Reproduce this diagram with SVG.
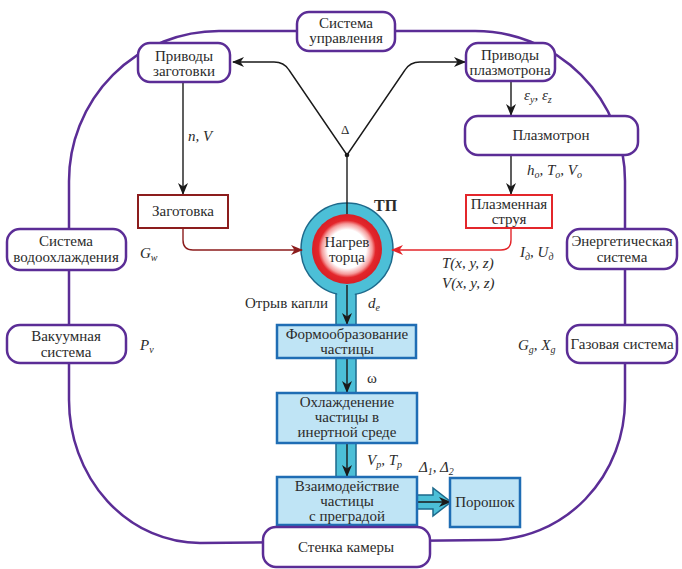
<svg xmlns="http://www.w3.org/2000/svg" width="682" height="569" viewBox="0 0 682 569" font-family="Liberation Serif, Tinos, DejaVu Serif, serif">
  <style>
    text { font-size: 15px; fill: #2b2b2b; }
    .c { text-anchor: middle; }
    .it { font-style: italic; }
    .sub { font-size: 10px; }
    .sys { fill: #ffffff; stroke: #5b2d96; stroke-width: 2.5; }
    .loop { fill: none; stroke: #5b2d96; stroke-width: 2.5; }
    .proc { fill: #bfe4f5; stroke: #1f6db4; stroke-width: 2.5; }
    .blk { fill: none; stroke: #1a1a1a; stroke-width: 1.4; }
    .chan { fill: #4cbfd7; stroke: #1d6a8c; stroke-width: 1.5; }
  </style>
  <defs>
    <marker id="ah" viewBox="0 0 12 10" refX="11" refY="5" markerWidth="12" markerHeight="10" orient="auto" markerUnits="userSpaceOnUse">
      <path d="M0,0 L12,5 L0,10 L3.5,5 z" fill="#1a1a1a"/>
    </marker>
    <marker id="ahDark" viewBox="0 0 12 10" refX="11" refY="5" markerWidth="12" markerHeight="10" orient="auto" markerUnits="userSpaceOnUse">
      <path d="M0,0 L12,5 L0,10 L3.5,5 z" fill="#8c1d1d"/>
    </marker>
    <marker id="ahRed" viewBox="0 0 12 10" refX="11" refY="5" markerWidth="12" markerHeight="10" orient="auto" markerUnits="userSpaceOnUse">
      <path d="M0,0 L12,5 L0,10 L3.5,5 z" fill="#e3262b"/>
    </marker>
    <radialGradient id="heat" cx="0.5" cy="0.5" r="0.5">
      <stop offset="0" stop-color="#ffffff"/>
      <stop offset="0.55" stop-color="#ffffff"/>
      <stop offset="0.72" stop-color="#f59a9a"/>
      <stop offset="0.82" stop-color="#e3262b"/>
      <stop offset="1" stop-color="#d81f26"/>
    </radialGradient>
  </defs>

  <!-- closed loop linking the peripheral systems -->
  <path class="loop" d="M219,31 L475,31 A150 150 0 0 1 625,181 L625,400 A135 140 0 0 1 490,540 L200,543 A131 143 0 0 1 69,400 L69,181 A150 150 0 0 1 219,31 Z"/>

  <!-- heated end and particle channel -->
  <g id="heated-end">
    <rect class="chan" x="336" y="280" width="20" height="200"/>
    <circle class="chan" cx="347" cy="249" r="46"/>
    <rect x="337.2" y="270" width="17.6" height="30" fill="#4cbfd7"/>
    <circle cx="347" cy="249" r="35" fill="url(#heat)"/>
    <text class="c" x="347" y="247">Нагрев</text>
    <text class="c" x="347" y="262">торца</text>
    <text x="374" y="211" style="font-weight:bold;font-size:16px">ТП</text>
  </g>

  <g id="connectors">
    <!-- control split -->
    <path class="blk" d="M347,214 L347,155"/>
    <path class="blk" d="M347,155 L289,70 Q284,62 274,62 L233,62" marker-end="url(#ah)"/>
    <path class="blk" d="M347,155 L405,70 Q410,62 420,62 L465,62" marker-end="url(#ah)"/>
    <circle cx="347" cy="155" r="2.3" fill="#1a1a1a"/>
    <text x="341" y="134" style="font-size:13px">Δ</text>

    <path class="blk" d="M183,82 L183,194" marker-end="url(#ah)"/>
    <path class="blk" d="M511,81 L511,115" marker-end="url(#ah)"/>
    <path class="blk" d="M511,155 L511,194" marker-end="url(#ah)"/>

    <path d="M183,228 L183,240 Q183,250 193,250 L302,250" fill="none" stroke="#8c1d1d" stroke-width="1.4" marker-end="url(#ahDark)"/>
    <path d="M511,228 L511,240 Q511,250 501,250 L392,250" fill="none" stroke="#e3262b" stroke-width="1.4" marker-end="url(#ahRed)"/>

    <path class="blk" d="M347,285 L347,324" marker-end="url(#ah)"/>
    <path class="blk" d="M347,358 L347,392" marker-end="url(#ah)"/>
    <path class="blk" d="M347,443 L347,476" marker-end="url(#ah)"/>

    <path d="M417,495 L433,495 L433,488 L451,502 L433,516 L433,509 L417,509 Z" fill="#4cbfd7" stroke="#1d6a8c" stroke-width="1.5"/>
    <path class="blk" d="M417,502 L450,502" marker-end="url(#ah)"/>

    <text class="it" x="188" y="141">n, V</text>
    <text class="it" x="524" y="100">ε<tspan class="sub" dy="3">y</tspan><tspan dy="-3">, ε</tspan><tspan class="sub" dy="3">z</tspan></text>
    <text class="it" x="527" y="175">h<tspan class="sub" dy="3">o</tspan><tspan dy="-3">, T</tspan><tspan class="sub" dy="3">o</tspan><tspan dy="-3">, V</tspan><tspan class="sub" dy="3">o</tspan></text>
    <text class="it" x="140" y="258">G<tspan class="sub" dy="3">w</tspan></text>
    <text class="it" x="140" y="350">P<tspan class="sub" dy="3">v</tspan></text>
    <text class="it" x="520" y="257">I<tspan class="sub" dy="3">д</tspan><tspan dy="-3">, U</tspan><tspan class="sub" dy="3">д</tspan></text>
    <text class="it" x="442" y="268">T(x, y, z)</text>
    <text class="it" x="442" y="288">V(x, y, z)</text>
    <text class="it" x="518" y="350">G<tspan class="sub" dy="3">g</tspan><tspan dy="-3">, X</tspan><tspan class="sub" dy="3">g</tspan></text>
    <text x="245" y="308">Отрыв капли</text>
    <text class="it" x="368" y="308">d<tspan class="sub" dy="3">e</tspan></text>
    <text x="367" y="383">ω</text>
    <text class="it" x="367" y="465">V<tspan class="sub" dy="3">p</tspan><tspan dy="-3">, T</tspan><tspan class="sub" dy="3">p</tspan></text>
    <text class="it" x="419" y="472">Δ<tspan class="sub" dy="3">1</tspan><tspan dy="-3">, Δ</tspan><tspan class="sub" dy="3">2</tspan></text>
  </g>

  <g id="control-system">
    <rect class="sys" x="297" y="12" width="98" height="39" rx="12"/>
    <text class="c" x="346" y="28">Система</text>
    <text class="c" x="346" y="43">управления</text>
  </g>
  <g id="billet-drives">
    <rect class="sys" x="138" y="43" width="92" height="39" rx="12"/>
    <text class="c" x="184" y="61">Приводы</text>
    <text class="c" x="184" y="76">заготовки</text>
  </g>
  <g id="plasmatron-drives">
    <rect class="sys" x="466" y="43" width="89" height="38" rx="12"/>
    <text class="c" x="510" y="60">Приводы</text>
    <text class="c" x="510" y="75">плазмотрона</text>
  </g>
  <g id="plasmatron">
    <rect class="sys" x="465" y="116" width="173" height="39" rx="13"/>
    <text class="c" x="551" y="140">Плазмотрон</text>
  </g>
  <g id="billet">
    <rect x="138" y="195" width="90" height="33" fill="#ffffff" stroke="#8c1d1d" stroke-width="2"/>
    <text class="c" x="183" y="216">Заготовка</text>
  </g>
  <g id="plasma-jet">
    <rect x="466" y="195" width="86" height="33" fill="#ffffff" stroke="#e3262b" stroke-width="2"/>
    <text class="c" x="509" y="209">Плазменная</text>
    <text class="c" x="509" y="224">струя</text>
  </g>
  <g id="water-cooling">
    <rect class="sys" x="7" y="229" width="119" height="41" rx="13"/>
    <text class="c" x="66" y="246">Система</text>
    <text class="c" x="66" y="262">водоохлаждения</text>
  </g>
  <g id="vacuum">
    <rect class="sys" x="7" y="325" width="119" height="38" rx="13"/>
    <text class="c" x="66" y="341">Вакуумная</text>
    <text class="c" x="66" y="357">система</text>
  </g>
  <g id="power">
    <rect class="sys" x="567" y="229" width="110" height="40" rx="13"/>
    <text class="c" x="622" y="246">Энергетическая</text>
    <text class="c" x="622" y="262">система</text>
  </g>
  <g id="gas">
    <rect class="sys" x="567" y="325" width="110" height="38" rx="13"/>
    <text class="c" x="622" y="349">Газовая система</text>
  </g>
  <g id="shaping">
    <rect class="proc" x="277" y="325" width="139" height="33"/>
    <text class="c" x="347" y="339">Формообразование</text>
    <text class="c" x="347" y="354">частицы</text>
  </g>
  <g id="cooling">
    <rect class="proc" x="277" y="393" width="140" height="50"/>
    <text class="c" x="347" y="407">Охлажденение</text>
    <text class="c" x="347" y="422">частицы в</text>
    <text class="c" x="347" y="437">инертной среде</text>
  </g>
  <g id="impact">
    <rect class="proc" x="277" y="477" width="140" height="48"/>
    <text class="c" x="347" y="491">Взаимодействие</text>
    <text class="c" x="347" y="506">частицы</text>
    <text class="c" x="347" y="521">с преградой</text>
  </g>
  <g id="powder">
    <rect class="proc" x="450" y="478" width="70" height="49"/>
    <text class="c" x="485" y="507">Порошок</text>
  </g>
  <g id="chamber-wall">
    <rect class="sys" x="263" y="527" width="167" height="40" rx="13"/>
    <text class="c" x="346" y="552">Стенка камеры</text>
  </g>
</svg>
